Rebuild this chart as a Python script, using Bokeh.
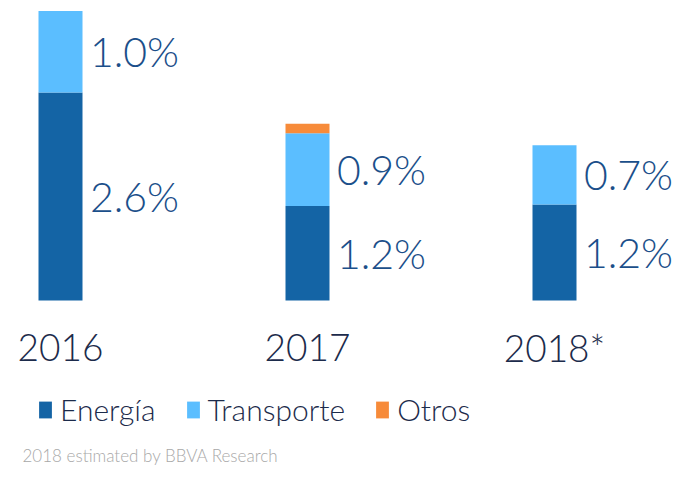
from bokeh.plotting import figure
from bokeh.models import ColumnDataSource, Range1d, Legend, LegendItem, Label
from bokeh.core.properties import value
from bokeh.embed import file_html
from bokeh.resources import INLINE

# ---- data ----
years = ["2016", "2017", "2018*"]
series = ["Energía", "Transporte", "Otros"]
energia = [2.6, 1.18, 1.2]
transporte = [1.02, 0.91, 0.74]
otros = [0.0, 0.12, 0.0]
energia_labels = ["2.6%", "1.2%", "1.2%"]
transporte_labels = ["1.0%", "0.9%", "0.7%"]
footnote = "2018 estimated by BBVA Research"

# ---- style ----
colors = ["#1464A5", "#5BBEFF", "#F78B3A"]
VALUE_COLOR = "#1B4F8A"
NAVY = "#1C2B4B"
FONT = "Lato Light"

W, H = 674, 466
XPX = 247.0      # pixels per category step
YPX = 80.0       # pixels per 1 percentage point
X0 = 60.0        # pixel position of first bar centre
BASE = 300.0     # pixel position (from top) of bar baseline

p = figure(width=W, height=H, output_backend="svg", toolbar_location=None,
           x_range=Range1d(-X0 / XPX, (W - X0) / XPX),
           y_range=Range1d(-(H - BASE) / YPX, BASE / YPX),
           x_axis_type=None, y_axis_type=None, min_border=0)
p.grid.visible = False
p.outline_line_color = None
p.background_fill_color = "white"
p.border_fill_color = "white"

xs = list(range(len(years)))
src = ColumnDataSource(dict(x=xs, Energía=energia, Transporte=transporte, Otros=otros))
rends = p.vbar_stack(series, x="x", width=44 / XPX, color=colors, line_color=None, source=src)

# value labels, centred on each segment, to the right of the bar
lx, ly, lt = [], [], []
for i in xs:
    lx.append(i); ly.append(energia[i] / 2); lt.append(energia_labels[i])
    lx.append(i); ly.append(energia[i] + transporte[i] / 2); lt.append(transporte_labels[i])
lab_src = ColumnDataSource(dict(x=lx, y=ly, t=lt))
p.text(x="x", y="y", text="t", source=lab_src, x_offset=74, text_align="center",
       text_baseline="middle", text_font=value(FONT), text_font_size="41px",
       text_color=VALUE_COLOR)

# category labels
cat_src = ColumnDataSource(dict(x=xs, y=[-47 / YPX] * len(xs), t=years))
p.text(x="x", y="y", text="t", source=cat_src, text_align="center",
       text_baseline="middle", text_font=value(FONT), text_font_size="37px",
       text_color=NAVY)

legend = Legend(items=[LegendItem(label=s, renderers=[r]) for s, r in zip(series, rends)],
                location=(37, 39), orientation="horizontal",
                glyph_width=16, glyph_height=21, label_standoff=7, spacing=29,
                padding=0, margin=0, border_line_color=None, background_fill_alpha=0,
                label_text_font=FONT, label_text_font_size="30px",
                label_text_color=NAVY, label_height=21)
p.add_layout(legend)

p.add_layout(Label(x=22, y=1, x_units="screen", y_units="screen", text=footnote,
                   text_font=FONT, text_font_size="17px", text_color="#A8A8A8",
                   text_baseline="bottom"))

open("out.html", "w").write(file_html(p, INLINE))
